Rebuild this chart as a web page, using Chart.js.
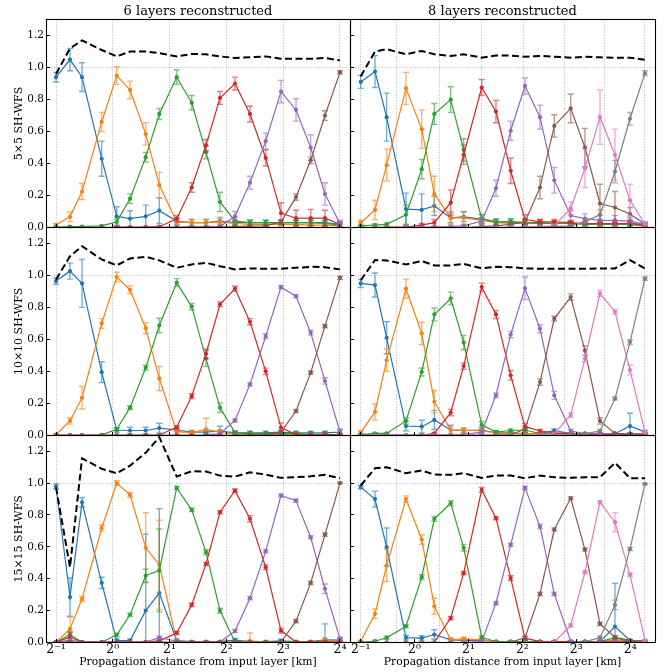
<!DOCTYPE html>
<html><head><meta charset="utf-8">
<script src="https://cdn.jsdelivr.net/npm/chart.js@4/dist/chart.umd.min.js"></script>
<style>
html,body{margin:0;padding:0;background:#fff;}
#wrap{position:relative;width:671px;height:672px;overflow:hidden;background:#fff;}
canvas{position:absolute;left:0;top:0;}
</style></head><body>
<div id="wrap">
<canvas id="c0" width="671" height="672"></canvas>
<canvas id="c1" width="671" height="672"></canvas>
<canvas id="c2" width="671" height="672"></canvas>
<canvas id="c3" width="671" height="672"></canvas>
<canvas id="c4" width="671" height="672"></canvas>
<canvas id="c5" width="671" height="672"></canvas>
</div>
<script>
// ---------- axes / categories ----------
const xs6 = [0.5,0.593,0.687,0.873,1.049,1.234,1.494,1.764,2.181,2.619,3.119,3.699,4.442,5.334,6.462,7.788,9.353,11.19,13.32,16.0];
const xs8 = [0.5,0.601,0.698,0.895,1.096,1.289,1.591,1.880,2.370,2.848,3.441,4.136,5.017,6.030,7.446,8.945,10.85,13.16,15.96,19.36];
const layers6 = [0.5,1,2,4,8,16];
const layers8 = [0.5,0.795,1.386,2.37,4.05,6.92,11.57,19.36];
const xTickValues = [0.5,1,2,4,8,16];
const xTickLabels = ['2\u207B\u00B9','2\u2070','2\u00B9','2\u00B2','2\u00B3','2\u2074'];
const yTickValues = [0,0.2,0.4,0.6,0.8,1.0,1.2];
const rowLabels = ['5\u00D75 SH-WFS','10\u00D710 SH-WFS','15\u00D715 SH-WFS'];
const colTitles = ['6 layers reconstructed','8 layers reconstructed'];
const xAxisTitle = 'Propagation distance from input layer [km]';

// ---------- 5x5, 6 layers ----------
const a_blue = [0.94,1.05,0.94,0.43,0.07,0.055,0.07,0.105,0.04,0.03,0.03,0.04,0.03,0.03,0.03,0.03,0.03,0.03,0.03,0.02];
const a_blue_err = [0.03,0.07,0.09,0.11,0.06,0.05,0.07,0.08,0.02,0.02,0.02,0.02,0.015,0.015,0.015,0.015,0.015,0.015,0.015,0.015];
const a_orange = [0.015,0.067,0.225,0.66,0.95,0.86,0.585,0.265,0.035,0.03,0.03,0.035,0.025,0.02,0.02,0.02,0.02,0.015,0.015,0.01];
const a_orange_err = [0.01,0.03,0.05,0.06,0.055,0.055,0.07,0.08,0.02,0.02,0.02,0.03,0.015,0.01,0.01,0.01,0.01,0.01,0.01,0.01];
const a_green = [0.003,0.005,0.005,0.01,0.035,0.18,0.44,0.71,0.94,0.78,0.47,0.16,0.04,0.03,0.03,0.03,0.03,0.03,0.025,0.015];
const a_green_err = [0.003,0.003,0.003,0.005,0.02,0.03,0.03,0.035,0.045,0.045,0.04,0.06,0.02,0.015,0.015,0.015,0.015,0.015,0.015,0.01];
const a_red = [0,0,0,0,0.002,0.002,0.003,0.005,0.055,0.25,0.515,0.81,0.9,0.71,0.435,0.09,0.058,0.058,0.058,0.02];
const a_red_err = [0,0,0,0,0.002,0.002,0.003,0.005,0.02,0.03,0.035,0.04,0.04,0.05,0.05,0.065,0.05,0.055,0.05,0.015];
const a_purple = [0,0,0,0,0,0,0,0.002,0.003,0.005,0.005,0.005,0.07,0.28,0.54,0.85,0.735,0.5,0.21,0.025];
const a_purple_err = [0,0,0,0,0,0,0,0.002,0.003,0.003,0.003,0.003,0.03,0.04,0.05,0.07,0.07,0.08,0.07,0.02];
const a_brown = [0,0,0,0,0,0,0,0,0,0,0,0.002,0.005,0.008,0.01,0.035,0.19,0.42,0.7,0.97];
const a_brown_err = [0,0,0,0,0,0,0,0,0,0,0,0.002,0.005,0.005,0.005,0.01,0.02,0.02,0.03,0.01];
const a_sum = [0.96,1.12,1.17,1.11,1.07,1.1,1.1,1.09,1.07,1.085,1.083,1.07,1.06,1.065,1.07,1.055,1.055,1.055,1.06,1.045];

// ---------- 5x5, 8 layers ----------
const b_blue = [0.91,0.975,0.69,0.115,0.11,0.135,0.06,0.067,0.052,0.035,0.035,0.03,0.03,0.025,0.025,0.025,0.025,0.025,0.025,0.02];
const b_blue_err = [0.04,0.1,0.15,0.1,0.1,0.06,0.03,0.03,0.03,0.02,0.02,0.02,0.02,0.015,0.015,0.015,0.015,0.015,0.015,0.015];
const b_orange = [0.03,0.11,0.39,0.87,0.615,0.21,0.06,0.06,0.045,0.03,0.025,0.025,0.025,0.025,0.025,0.025,0.02,0.02,0.02,0.015];
const b_orange_err = [0.015,0.06,0.1,0.1,0.12,0.11,0.04,0.04,0.02,0.015,0.015,0.015,0.015,0.015,0.015,0.015,0.01,0.01,0.01,0.01];
const b_green = [0.01,0.015,0.02,0.08,0.365,0.71,0.8,0.485,0.055,0.035,0.035,0.03,0.025,0.025,0.025,0.02,0.02,0.02,0.02,0.01];
const b_green_err = [0.005,0.008,0.01,0.06,0.06,0.065,0.08,0.07,0.025,0.015,0.015,0.015,0.01,0.01,0.01,0.01,0.01,0.01,0.01,0.005];
const b_red = [0,0,0.002,0.003,0.015,0.03,0.155,0.455,0.875,0.725,0.355,0.05,0.035,0.035,0.03,0.025,0.025,0.025,0.025,0.015];
const b_red_err = [0,0,0.002,0.003,0.01,0.02,0.08,0.06,0.05,0.07,0.08,0.03,0.015,0.015,0.01,0.01,0.01,0.01,0.01,0.01];
const b_purple = [0,0,0,0,0.002,0.003,0.005,0.01,0.04,0.245,0.605,0.885,0.69,0.295,0.075,0.055,0.045,0.045,0.04,0.02];
const b_purple_err = [0,0,0,0,0.002,0.003,0.005,0.005,0.02,0.05,0.06,0.05,0.075,0.08,0.03,0.03,0.03,0.03,0.02,0.01];
const b_brown = [0,0,0,0,0,0,0,0,0.005,0.01,0.02,0.035,0.25,0.635,0.745,0.5,0.15,0.125,0.085,0.02];
const b_brown_err = [0,0,0,0,0,0,0,0,0.005,0.005,0.01,0.02,0.07,0.07,0.09,0.12,0.12,0.1,0.04,0.01];
const b_pink = [0,0,0,0,0,0,0,0,0,0,0.002,0.003,0.005,0.01,0.12,0.37,0.69,0.455,0.17,0.02];
const b_pink_err = [0,0,0,0,0,0,0,0,0,0,0.002,0.003,0.005,0.01,0.04,0.12,0.17,0.16,0.1,0.01];
const b_gray = [0,0,0,0,0,0,0,0,0,0,0,0,0.002,0.005,0.01,0.035,0.08,0.35,0.68,0.965];
const b_gray_err = [0,0,0,0,0,0,0,0,0,0,0,0,0.002,0.005,0.005,0.02,0.03,0.07,0.04,0.015];
const b_sum = [0.945,1.1,1.115,1.083,1.104,1.083,1.073,1.083,1.062,1.075,1.075,1.068,1.073,1.068,1.062,1.068,1.064,1.062,1.062,1.048];

// ---------- 10x10, 6 layers ----------
const c_blue = [0.965,1.027,0.95,0.395,0.033,0.03,0.03,0.045,0.033,0.02,0.02,0.027,0.015,0.015,0.015,0.02,0.015,0.015,0.015,0.02];
const c_blue_err = [0.02,0.05,0.15,0.065,0.015,0.02,0.02,0.03,0.01,0.01,0.01,0.03,0.01,0.01,0.01,0.01,0.01,0.01,0.01,0.015];
const c_orange = [0.005,0.09,0.235,0.7,0.99,0.91,0.67,0.355,0.023,0.017,0.037,0.02,0.005,0.005,0.005,0.005,0.005,0.005,0.005,0.005];
const c_orange_err = [0.005,0.02,0.07,0.03,0.03,0.025,0.035,0.075,0.01,0.01,0.07,0.015,0.005,0.005,0.005,0.005,0.005,0.005,0.005,0.005];
const c_green = [0,0,0,0.003,0.038,0.173,0.423,0.687,0.955,0.805,0.48,0.173,0.017,0.01,0.01,0.01,0.01,0.005,0.005,0.005];
const c_green_err = [0,0,0,0.003,0.01,0.01,0.015,0.045,0.025,0.02,0.05,0.03,0.01,0.005,0.005,0.005,0.005,0.005,0.005,0.005];
const c_red = [0,0,0,0,0,0,0,0.002,0.05,0.245,0.51,0.82,0.917,0.71,0.4,0.048,0.005,0.003,0.003,0.003];
const c_red_err = [0,0,0,0,0,0,0,0.002,0.01,0.015,0.03,0.015,0.015,0.02,0.02,0.03,0.005,0.003,0.003,0.003];
const c_purple = [0,0,0,0,0,0,0,0,0,0,0.003,0.01,0.093,0.318,0.62,0.927,0.87,0.642,0.34,0.02];
const c_purple_err = [0,0,0,0,0,0,0,0,0,0,0.003,0.005,0.01,0.01,0.015,0.01,0.01,0.015,0.02,0.02];
const c_brown = [0,0,0,0,0,0,0,0,0,0,0,0,0,0.002,0.003,0.02,0.152,0.392,0.683,0.985];
const c_brown_err = [0,0,0,0,0,0,0,0,0,0,0,0,0,0.002,0.003,0.01,0.01,0.01,0.01,0.01];
const c_sum = [0.975,1.12,1.183,1.1,1.063,1.106,1.117,1.094,1.048,1.069,1.079,1.058,1.038,1.044,1.042,1.042,1.048,1.054,1.052,1.038];

// ---------- 10x10, 8 layers ----------
const d_blue = [0.95,0.94,0.61,0.058,0.054,0.096,0.033,0.03,0.033,0.015,0.015,0.01,0.01,0.03,0.01,0.01,0.01,0.01,0.058,0.02];
const d_blue_err = [0.025,0.075,0.1,0.03,0.04,0.06,0.03,0.015,0.02,0.01,0.01,0.005,0.005,0.01,0.005,0.005,0.005,0.005,0.08,0.01];
const d_orange = [0.017,0.146,0.47,0.917,0.637,0.21,0.033,0.033,0.027,0.015,0.01,0.01,0.01,0.01,0.01,0.01,0.01,0.01,0.01,0.01];
const d_orange_err = [0.01,0.05,0.07,0.06,0.07,0.07,0.02,0.015,0.01,0.005,0.005,0.005,0.005,0.005,0.005,0.005,0.005,0.005,0.005,0.005];
const d_green = [0.005,0.012,0.012,0.09,0.396,0.756,0.856,0.58,0.065,0.02,0.03,0.033,0.01,0.01,0.01,0.01,0.01,0.01,0.01,0.01];
const d_green_err = [0.005,0.005,0.005,0.02,0.025,0.04,0.04,0.045,0.02,0.01,0.01,0.01,0.005,0.005,0.005,0.005,0.005,0.005,0.005,0.005];
const d_red = [0,0,0,0,0,0.012,0.142,0.433,0.927,0.756,0.375,0.054,0.027,0.015,0.01,0.005,0.005,0.005,0.005,0.005];
const d_red_err = [0,0,0,0,0,0.005,0.02,0.02,0.025,0.025,0.03,0.02,0.01,0.005,0.005,0.005,0.005,0.005,0.005,0.005];
const d_purple = [0,0,0,0,0,0,0,0.005,0.02,0.25,0.63,0.92,0.667,0.25,0.027,0.01,0.01,0.01,0.01,0.01];
const d_purple_err = [0,0,0,0,0,0,0,0.005,0.01,0.015,0.02,0.07,0.025,0.025,0.01,0.005,0.005,0.005,0.005,0.005];
const d_brown = [0,0,0,0,0,0,0,0,0,0.002,0.005,0.037,0.333,0.73,0.865,0.53,0.09,0.012,0.005,0.005];
const d_brown_err = [0,0,0,0,0,0,0,0,0,0.002,0.005,0.02,0.02,0.015,0.02,0.03,0.02,0.005,0.005,0.005];
const d_pink = [0,0,0,0,0,0,0,0,0,0,0,0,0.005,0.01,0.127,0.48,0.888,0.773,0.408,0.02];
const d_pink_err = [0,0,0,0,0,0,0,0,0,0,0,0,0.005,0.005,0.015,0.02,0.02,0.015,0.03,0.01];
const d_gray = [0,0,0,0,0,0,0,0,0,0,0,0,0,0,0.005,0.01,0.027,0.23,0.583,0.98];
const d_gray_err = [0,0,0,0,0,0,0,0,0,0,0,0,0,0,0.005,0.005,0.01,0.01,0.015,0.01];
const d_sum = [0.97,1.096,1.094,1.069,1.09,1.063,1.063,1.073,1.044,1.054,1.052,1.044,1.042,1.042,1.042,1.042,1.044,1.044,1.096,1.044];

// ---------- 15x15, 6 layers ----------
const e_blue = [0.98,0.285,0.88,0.374,0.012,0.012,0.2,0.31,0.012,0.005,0.005,0.005,0.015,0.005,0.005,0.01,0.005,0.005,0.017,0.015];
const e_blue_err = [0.015,0.12,0.03,0.035,0.01,0.01,0.48,0.53,0.01,0.005,0.005,0.005,0.01,0.005,0.005,0.01,0.005,0.005,0.1,0.01];
const e_orange = [0.002,0.085,0.274,0.717,1.0,0.926,0.594,0.487,0.008,0.003,0.003,0.003,0.003,0.01,0.003,0.003,0.003,0.003,0.01,0.01];
const e_orange_err = [0.002,0.075,0.015,0.02,0.015,0.015,0.22,0.28,0.005,0.003,0.003,0.003,0.003,0.05,0.003,0.003,0.003,0.003,0.02,0.01];
const e_green = [0.002,0.05,0.002,0.002,0.048,0.174,0.42,0.452,0.97,0.832,0.567,0.2,0.002,0.003,0.003,0.003,0.003,0.003,0.003,0.003];
const e_green_err = [0.002,0.02,0.002,0.002,0.01,0.01,0.04,0.26,0.01,0.01,0.015,0.015,0.002,0.003,0.003,0.003,0.003,0.003,0.003,0.003];
const e_red = [0.002,0.033,0.002,0.002,0.002,0.002,0.003,0.01,0.06,0.236,0.493,0.817,0.953,0.776,0.472,0.075,0.003,0.003,0.003,0.003];
const e_red_err = [0.002,0.03,0.002,0.002,0.002,0.002,0.003,0.005,0.01,0.01,0.01,0.01,0.01,0.02,0.015,0.015,0.003,0.003,0.003,0.003];
const e_purple = [0.002,0.015,0.003,0.003,0.003,0.003,0.003,0.03,0.008,0.003,0.003,0.003,0.072,0.278,0.573,0.922,0.89,0.66,0.337,0.023];
const e_purple_err = [0.002,0.01,0.003,0.003,0.003,0.003,0.003,0.01,0.005,0.003,0.003,0.003,0.01,0.01,0.01,0.01,0.01,0.01,0.03,0.01];
const e_brown = [0.002,0.002,0.002,0.002,0.002,0.002,0.002,0.002,0.002,0.002,0.002,0.002,0.002,0.002,0.002,0.003,0.134,0.374,0.677,1.0];
const e_brown_err = [0.002,0.002,0.002,0.002,0.002,0.002,0.002,0.002,0.002,0.002,0.002,0.002,0.002,0.002,0.002,0.002,0.01,0.01,0.01,0.005];
const e_sum = [0.974,0.473,1.156,1.09,1.062,1.11,1.19,1.288,1.041,1.075,1.073,1.047,1.041,1.068,1.054,1.033,1.037,1.043,1.052,1.031];

// ---------- 15x15, 8 layers ----------
const f_blue = [0.975,0.9,0.598,0.03,0.027,0.05,0.017,0.013,0.013,0.005,0.005,0.005,0.005,0.005,0.005,0.005,0.005,0.1,0.013,0.008];
const f_blue_err = [0.01,0.05,0.12,0.015,0.015,0.03,0.01,0.005,0.005,0.005,0.005,0.005,0.005,0.005,0.005,0.005,0.005,0.27,0.005,0.005];
const f_orange = [0.008,0.18,0.483,0.9,0.646,0.228,0.017,0.023,0.017,0.005,0.005,0.005,0.005,0.005,0.005,0.005,0.005,0.017,0.01,0.005];
const f_orange_err = [0.005,0.03,0.1,0.02,0.03,0.05,0.01,0.01,0.01,0.005,0.005,0.005,0.005,0.005,0.005,0.005,0.005,0.01,0.005,0.005];
const f_green = [0.002,0.008,0.03,0.102,0.41,0.776,0.874,0.594,0.033,0.005,0.005,0.005,0.005,0.005,0.005,0.005,0.005,0.03,0.005,0.005];
const f_green_err = [0.002,0.005,0.01,0.01,0.015,0.015,0.015,0.02,0.01,0.005,0.005,0.005,0.005,0.005,0.005,0.005,0.005,0.01,0.005,0.005];
const f_red = [0,0,0,0,0,0.002,0.153,0.435,0.958,0.78,0.404,0.027,0.005,0.005,0.005,0.005,0.005,0.005,0.005,0.005];
const f_red_err = [0,0,0,0,0,0.002,0.01,0.01,0.015,0.01,0.015,0.01,0.005,0.005,0.005,0.005,0.005,0.005,0.005,0.005];
const f_purple = [0,0,0,0,0,0,0,0,0.005,0.247,0.613,0.97,0.728,0.305,0.008,0.003,0.003,0.003,0.003,0.003];
const f_purple_err = [0,0,0,0,0,0,0,0,0.005,0.01,0.01,0.01,0.015,0.01,0.005,0.003,0.003,0.003,0.003,0.003];
const f_brown = [0,0,0,0,0,0,0,0,0,0,0.002,0.03,0.305,0.709,0.905,0.583,0.117,0.033,0.013,0.008];
const f_brown_err = [0,0,0,0,0,0,0,0,0,0,0.002,0.01,0.01,0.01,0.01,0.01,0.01,0.01,0.005,0.005];
const f_pink = [0,0,0,0,0,0,0,0,0,0,0,0,0,0.002,0.107,0.441,0.88,0.755,0.426,0.013];
const f_pink_err = [0,0,0,0,0,0,0,0,0,0,0,0,0,0.002,0.01,0.01,0.01,0.06,0.01,0.005];
const f_gray = [0,0,0,0,0,0,0,0,0,0,0,0,0,0,0,0.005,0.03,0.236,0.587,0.995];
const f_gray_err = [0,0,0,0,0,0,0,0,0,0,0,0,0,0,0,0.005,0.01,0.03,0.01,0.005];
const f_sum = [0.985,1.093,1.1,1.062,1.079,1.054,1.052,1.062,1.033,1.047,1.047,1.031,1.047,1.037,1.033,1.037,1.037,1.127,1.031,1.031];

// ---------- styling ----------
const COLORS = {blue:'#1f77b4',orange:'#ff7f0e',green:'#2ca02c',red:'#d62728',purple:'#9467bd',brown:'#8c564b',pink:'#e377c2',gray:'#7f7f7f'};
const FONT = "'DejaVu Serif', 'Liberation Serif', serif";

const panels = [
  {row:0,col:0,xs:xs6,layers:layers6,min:0.4425,max:18.08,sum:a_sum,series:[[a_blue,a_blue_err,'blue'],[a_orange,a_orange_err,'orange'],[a_green,a_green_err,'green'],[a_red,a_red_err,'red'],[a_purple,a_purple_err,'purple'],[a_brown,a_brown_err,'brown']]},
  {row:0,col:1,xs:xs8,layers:layers8,min:0.4357,max:22.02,sum:b_sum,series:[[b_blue,b_blue_err,'blue'],[b_orange,b_orange_err,'orange'],[b_green,b_green_err,'green'],[b_red,b_red_err,'red'],[b_purple,b_purple_err,'purple'],[b_brown,b_brown_err,'brown'],[b_pink,b_pink_err,'pink'],[b_gray,b_gray_err,'gray']]},
  {row:1,col:0,xs:xs6,layers:layers6,min:0.4425,max:18.08,sum:c_sum,series:[[c_blue,c_blue_err,'blue'],[c_orange,c_orange_err,'orange'],[c_green,c_green_err,'green'],[c_red,c_red_err,'red'],[c_purple,c_purple_err,'purple'],[c_brown,c_brown_err,'brown']]},
  {row:1,col:1,xs:xs8,layers:layers8,min:0.4357,max:22.02,sum:d_sum,series:[[d_blue,d_blue_err,'blue'],[d_orange,d_orange_err,'orange'],[d_green,d_green_err,'green'],[d_red,d_red_err,'red'],[d_purple,d_purple_err,'purple'],[d_brown,d_brown_err,'brown'],[d_pink,d_pink_err,'pink'],[d_gray,d_gray_err,'gray']]},
  {row:2,col:0,xs:xs6,layers:layers6,min:0.4425,max:18.08,sum:e_sum,series:[[e_blue,e_blue_err,'blue'],[e_orange,e_orange_err,'orange'],[e_green,e_green_err,'green'],[e_red,e_red_err,'red'],[e_purple,e_purple_err,'purple'],[e_brown,e_brown_err,'brown']]},
  {row:2,col:1,xs:xs8,layers:layers8,min:0.4357,max:22.02,sum:f_sum,series:[[f_blue,f_blue_err,'blue'],[f_orange,f_orange_err,'orange'],[f_green,f_green_err,'green'],[f_red,f_red_err,'red'],[f_purple,f_purple_err,'purple'],[f_brown,f_brown_err,'brown'],[f_pink,f_pink_err,'pink'],[f_gray,f_gray_err,'gray']]}
];

function rgba(hex, a){
  const n = parseInt(hex.slice(1),16);
  return `rgba(${(n>>16)&255},${(n>>8)&255},${n&255},${a})`;
}

const decor = {
  id:'decor',
  beforeDatasetsDraw(chart, args, opts){
    const {ctx, chartArea:a, scales:{x,y}} = chart;
    ctx.save();
    ctx.strokeStyle = '#b8b8b8'; ctx.lineWidth = 1; ctx.setLineDash([1,1.6]);
    (opts.layers||[]).forEach(v=>{
      const px = Math.floor(x.getPixelForValue(v))+0.5;
      ctx.beginPath(); ctx.moveTo(px,a.top); ctx.lineTo(px,a.bottom); ctx.stroke();
    });
    const py = Math.floor(y.getPixelForValue(1))+0.5;
    ctx.beginPath(); ctx.moveTo(a.left,py); ctx.lineTo(a.right,py); ctx.stroke();
    ctx.restore();
  },
  afterDatasetDraw(chart, args){
    const ds = chart.data.datasets[args.index];
    if(!ds.errs) return;
    const {ctx, chartArea:a, scales:{x,y}} = chart;
    ctx.save();
    ctx.beginPath(); ctx.rect(a.left,a.top,a.right-a.left,a.bottom-a.top); ctx.clip();
    ctx.strokeStyle = rgba(ds.borderColor,0.6); ctx.lineWidth = 1.4;
    ds.data.forEach((p,i)=>{
      const e = ds.errs[i];
      if(!(e>0)) return;
      const px = x.getPixelForValue(p.x);
      const y1 = y.getPixelForValue(p.y-e), y2 = y.getPixelForValue(p.y+e);
      ctx.beginPath();
      ctx.moveTo(px,y1); ctx.lineTo(px,y2);
      ctx.moveTo(px-3,y1); ctx.lineTo(px+3,y1);
      ctx.moveTo(px-3,y2); ctx.lineTo(px+3,y2);
      ctx.stroke();
    });
    ctx.restore();
  },
  afterDraw(chart){
    const {ctx, chartArea:a, scales:{x,y}} = chart;
    ctx.save();
    ctx.strokeStyle = '#000'; ctx.lineWidth = 1.1;
    const L = Math.floor(a.left)+0.5, R = Math.floor(a.right)+0.5, T = Math.floor(a.top)+0.5, B = Math.floor(a.bottom)+0.5;
    ctx.strokeRect(L,T,R-L,B-T);
    ctx.lineWidth = 1;
    yTickValues.forEach(v=>{
      const py = Math.floor(y.getPixelForValue(v))+0.5;
      ctx.beginPath(); ctx.moveTo(L,py); ctx.lineTo(L+3.5,py); ctx.stroke();
    });
    xTickValues.forEach(v=>{
      const px = Math.floor(x.getPixelForValue(v))+0.5;
      ctx.beginPath(); ctx.moveTo(px,B); ctx.lineTo(px,B-3.5); ctx.stroke();
    });
    ctx.restore();
  }
};
Chart.register(decor);
Chart.defaults.font.family = FONT;
Chart.defaults.color = '#000';

const rowTop = [0, 227.5, 435.3];
const rowBottom = [227.5, 435.3, 642.5];

panels.forEach((p, k)=>{
  const isLeft = p.col===0, isBottom = p.row===2, isTop = p.row===0;
  const datasets = [];
  p.series.forEach((s, j)=>{
    const col = COLORS[s[2]];
    datasets.push({
      data: p.xs.map((xv,i)=>({x:xv, y:s[0][i]})),
      errs: s[1],
      borderColor: col, backgroundColor: col,
      borderWidth: 1.2, pointRadius: 2.1, pointBorderWidth: 0,
      pointBackgroundColor: col, tension: 0, order: 100-j
    });
  });
  datasets.push({
    data: p.xs.map((xv,i)=>({x:xv, y:p.sum[i]})),
    borderColor:'#000', borderWidth: 2, borderDash:[7,3.5], pointRadius:0, tension:0, order:0
  });
  new Chart(document.getElementById('c'+k), {
    type:'line',
    data:{datasets},
    options:{
      responsive:false, animation:false, devicePixelRatio:1,
      layout:{padding:{
        left: isLeft?0:350,
        right: isLeft?(671-350):(671-655),
        top: isTop?0:rowTop[p.row],
        bottom: isBottom?0:(672-rowBottom[p.row])
      }},
      plugins:{
        legend:{display:false}, tooltip:{enabled:false},
        title:{display:isTop, text:colTitles[p.col], fullSize:false, color:'#000',
               font:{size:13, family:FONT, weight:'normal'}, padding:{top:4,bottom:0}},
        decor:{layers:p.layers}
      },
      scales:{
        x:{
          type:'logarithmic', min:p.min, max:p.max, display:true,
          grid:{display:false, drawTicks:false}, border:{display:false},
          afterBuildTicks:(sc)=>{ sc.ticks = xTickValues.map(v=>({value:v, major:true})); },
          ticks:{display:isBottom, autoSkip:false, maxRotation:0, padding:0,
                 font:{size:12.5, family:FONT},
                 callback:(v)=>{ const i = xTickValues.indexOf(v); return i>=0?xTickLabels[i]:''; }},
          title:{display:isBottom, text:xAxisTitle, font:{size:10.8, family:FONT}, padding:{top:0,bottom:3.5}},
          afterFit:(sc)=>{ sc.height = isBottom ? 29.5 : 0; }
        },
        y:{
          type:'linear', min:0, max:1.3, display:true,
          grid:{display:false, drawTicks:false}, border:{display:false},
          afterBuildTicks:(sc)=>{ sc.ticks = yTickValues.map(v=>({value:v})); },
          ticks:{display:isLeft, padding:2, font:{size:10.5, family:FONT},
                 callback:(v)=>Number(v).toFixed(1)},
          title:{display:isLeft, text:rowLabels[p.row], font:{size:11, family:FONT}, padding:{top:12.4,bottom:0}},
          afterFit:(sc)=>{ sc.width = isLeft ? 46 : 0; }
        }
      }
    }
  });
});
</script>
</body></html>
